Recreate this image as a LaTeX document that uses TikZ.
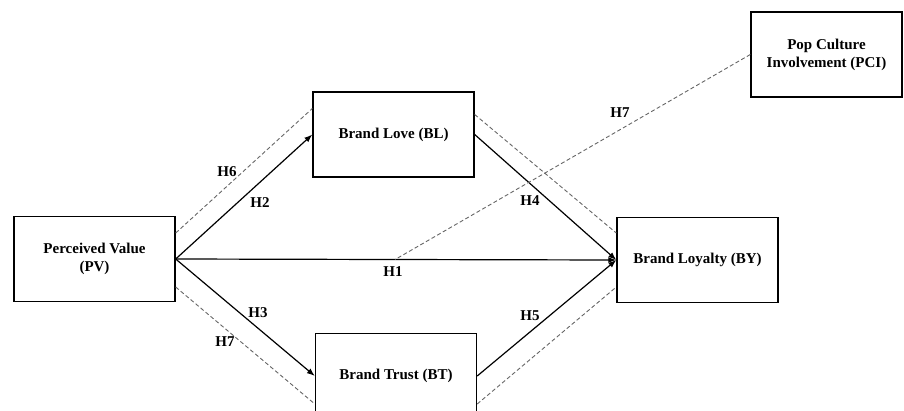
\documentclass[tikz,border=0pt]{standalone}
\usepackage{fontspec}
\setmainfont{Liberation Serif}
\usetikzlibrary{arrows.meta}
\definecolor{dashgray}{HTML}{666666}

\begin{document}
\begin{tikzpicture}[x=1pt,y=-1pt,font=\fontsize{15}{18}\selectfont\bfseries,
  construct/.style={draw,line width=1.4pt,minimum width=161pt,minimum height=85pt,align=center,inner sep=2pt},
  effect/.style={line width=1.2pt,-{Latex[length=8pt,width=6pt]}},
  moderation/.style={dashgray,line width=0.9pt,dash pattern=on 4pt off 2.5pt}]
  \useasboundingbox (0,0) rectangle (904,410);
  \clip (0,0) rectangle (904,410);
  \node[construct] (pv) at (94.5,259) {Perceived Value\\(PV)};
  \node[construct] (bl) at (393.5,134.5) {Brand Love (BL)};
  \node[construct] (bt) at (396,376) {Brand Trust (BT)};
  \node[construct] (by) at (697.5,260) {Brand Loyalty (BY)};
  \node[construct,minimum width=151pt] (pci) at (826.5,54.5) {Pop Culture\\Involvement (PCI)};
  \draw[effect] (pv.east) -- (bl.west);
  \draw[effect] (pv.east) -- (bt.west);
  \draw[effect] (pv.east) -- coordinate[pos=0.498] (h1mid) (by.west);
  \draw[effect] (bl.east) -- (by.west);
  \draw[effect] (bt.east) -- (by.west);
  \draw[moderation] ([yshift=26pt]pv.east) -- ([yshift=26pt]bl.west);
  \draw[moderation] ([yshift=-28pt]pv.east) -- ([yshift=-28pt]bt.west);
  \draw[moderation] ([yshift=20pt]bl.east) -- ([yshift=27pt]by.west);
  \draw[moderation] ([yshift=-28pt]bt.east) -- ([yshift=-27pt]by.west);
  \draw[moderation] (pci.west) -- (h1mid);
  \node (h1) at (393,272) {H1};
  \node (h2) at (260,203) {H2};
  \node (h3) at (258,313) {H3};
  \node (h4) at (530,201) {H4};
  \node (h5) at (530,316) {H5};
  \node (h6) at (227,172) {H6};
  \node (h7a) at (225,342) {H7};
  \node (h7b) at (620,113) {H7};
\end{tikzpicture}
\end{document}
